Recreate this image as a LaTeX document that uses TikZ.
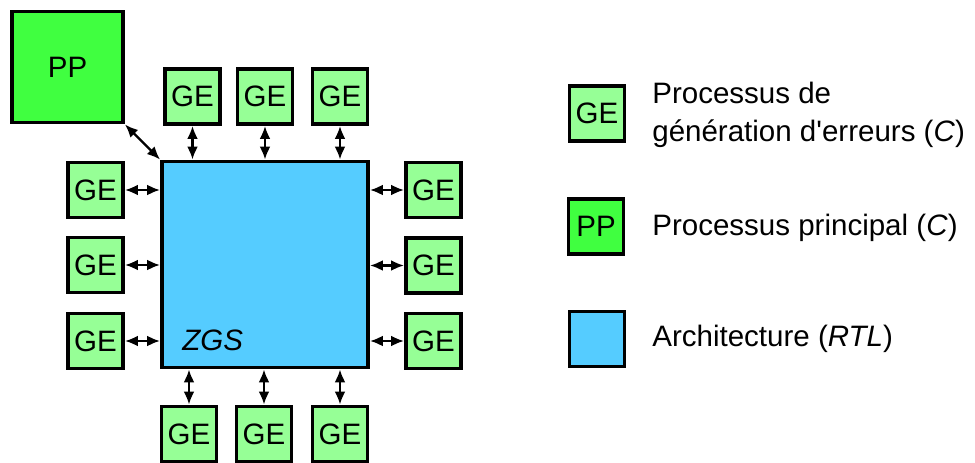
\documentclass[tikz,border=0pt]{standalone}
\usepackage{fontspec}
\setmainfont{Liberation Sans}[Ligatures=TeXOff]
\usetikzlibrary{arrows.meta}

\definecolor{gecolor}{RGB}{150,255,150}
\definecolor{ppcolor}{RGB}{64,255,64}
\definecolor{zgscolor}{RGB}{85,204,255}

\begin{document}
\begin{tikzpicture}[x=0.02cm, y=-0.02cm,
        box/.style={draw, line width=0.07cm, inner sep=0pt, font=\fontsize{16.8}{19}\selectfont},
        gebox/.style={box, fill=gecolor, minimum size=1.11cm},
        ppbox/.style={box, fill=ppcolor, minimum size=2.23cm},
        zgsbox/.style={box, fill=zgscolor, minimum size=4.13cm},
        legtext/.style={anchor=west, align=left, inner sep=0pt, font=\fontsize{16.8}{21.5}\selectfont},
        link/.style={{Latex[length=0.26cm, width=0.22cm]}-{Latex[length=0.26cm, width=0.22cm]}, line width=0.045cm}]
    \useasboundingbox (0,0) rectangle (975,463);

    % Draw nodes
    \node[zgsbox] (zgs) at (265,264.5) {};
    \node[font=\fontsize{16.8}{19}\selectfont\itshape, anchor=base west, inner sep=0pt] (zgslabel) at (182,350) {ZGS};
    \node[ppbox] (pp) at (67.5,67) {PP};

    \node[gebox] (t1) at (192.5,96.5) {GE};
    \node[gebox] (t2) at (265,96.5) {GE};
    \node[gebox] (t3) at (340,96.5) {GE};

    \node[gebox] (b1) at (189,434) {GE};
    \node[gebox] (b2) at (264,434) {GE};
    \node[gebox] (b3) at (340,434) {GE};

    \node[gebox] (l1) at (95.5,190) {GE};
    \node[gebox] (l2) at (95.5,265) {GE};
    \node[gebox] (l3) at (95.5,341) {GE};

    \node[gebox] (r1) at (433.5,190) {GE};
    \node[gebox] (r2) at (433.5,265.5) {GE};
    \node[gebox] (r3) at (433.5,341) {GE};

    % Draw connections
    \draw[link] (pp.south east) -- (zgs.north west);
    \draw[link] (t1.south) -- (t1.south |- zgs.north);
    \draw[link] (t2.south) -- (t2.south |- zgs.north);
    \draw[link] (t3.south) -- (t3.south |- zgs.north);
    \draw[link] (b1.north) -- (b1.north |- zgs.south);
    \draw[link] (b2.north) -- (b2.north |- zgs.south);
    \draw[link] (b3.north) -- (b3.north |- zgs.south);
    \draw[link] (l1.east) -- (l1.east -| zgs.west);
    \draw[link] (l2.east) -- (l2.east -| zgs.west);
    \draw[link] (l3.east) -- (l3.east -| zgs.west);
    \draw[link] (r1.west) -- (r1.west -| zgs.east);
    \draw[link] (r2.west) -- (r2.west -| zgs.east);
    \draw[link] (r3.west) -- (r3.west -| zgs.east);

    % Legend
    \node[gebox] (leg-ge) at (597,113.5) {GE};
    \node[box, fill=ppcolor, minimum size=1.11cm] (leg-pp) at (596,226.5) {PP};
    \node[box, fill=zgscolor, minimum size=1.11cm] (leg-zgs) at (597,339) {};
    \node[legtext] (leg-ge-text) at (652,115) {Processus de\\génération d'erreurs (\textit{C})};
    \node[legtext] (leg-pp-text) at (652,228) {Processus principal (\textit{C})};
    \node[legtext] (leg-zgs-text) at (652,339) {Architecture (\textit{RTL})};
\end{tikzpicture}
\end{document}
